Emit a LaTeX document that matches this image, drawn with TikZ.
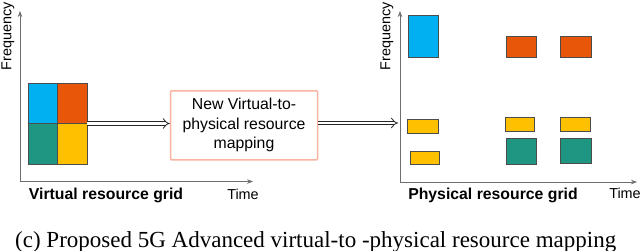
\documentclass[tikz,border=0pt]{standalone}
\usepackage{fontspec}
\setmainfont{Liberation Sans}
\newfontfamily\captionfont{Liberation Serif}
\usetikzlibrary{arrows.meta, positioning}
\definecolor{resblue}{RGB}{0,176,240}
\definecolor{resorange}{RGB}{232,86,10}
\definecolor{resgreen}{RGB}{30,150,130}
\definecolor{resyellow}{RGB}{255,192,0}
\definecolor{mapsalmon}{RGB}{248,180,160}
\definecolor{axisgray}{RGB}{110,110,110}

\begin{document}
\begin{tikzpicture}[x=1pt, y=-1pt,
  cell/.style={draw=gray!60!black, line width=0.5pt, minimum width=29.5pt,
               minimum height=40.5pt, inner sep=0pt, outer sep=0pt},
  block/.style={draw=gray!60!black, line width=0.4pt, inner sep=0pt, outer sep=0pt},
  mapbox/.style={draw=mapsalmon, line width=1.5pt, rounded corners=1pt,
                 minimum width=147pt, minimum height=69pt, align=center,
                 font=\fontsize{15.8}{19.5}\selectfont},
  axis/.style={-{Stealth[length=6pt, width=4.5pt]}, axisgray, line width=0.8pt},
  maparr/.style={-Implies, double=white, double distance=2.8pt,
                 line width=0.8pt, draw=gray!30!black},
  axlabel/.style={font=\fontsize{14.4}{16}\selectfont, inner sep=0pt},
  gridlabel/.style={font=\fontsize{15.8}{18}\selectfont\bfseries, inner sep=0pt},
]
  \useasboundingbox (0,0) rectangle (640,251);

  % Virtual resource grid
  \coordinate (vorig) at (20,181.5);
  \coordinate (vtop) at (20,11);
  \coordinate (vright) at (253,181.5);
  \draw[axis] (vorig) -- (vtop);
  \draw[axis] (vorig) -- (vright);
  \node[axlabel, rotate=90] (vfreq) at (8,36.5) {Frequency};
  \node[axlabel] (vtime) at (243,194) {Time};
  \node[gridlabel] (vlabel) at (106,195) {Virtual resource grid};

  \node[cell, fill=resblue, anchor=north west] (vb) at (28,83) {};
  \node[cell, fill=resorange, right=0pt of vb] (vo) {};
  \node[cell, fill=resgreen, below=0pt of vb] (vg) {};
  \node[cell, fill=resyellow, right=0pt of vg] (vy) {};

  % Mapping
  \node[mapbox] (map) at (244,125.3) {New Virtual-to-\\physical resource\\mapping};
  \draw[maparr] (vo.south east) -- (vo.south east -| map.west);

  % Physical resource grid
  \coordinate (porig) at (400,182);
  \coordinate (ptop) at (400,11);
  \coordinate (pright) at (637,182);
  \draw[axis] (porig) -- (ptop);
  \draw[axis] (porig) -- (pright);
  \node[axlabel, rotate=90] (pfreq) at (387,36.5) {Frequency};
  \node[axlabel] (ptime) at (625,193) {Time};
  \node[gridlabel] (plabel) at (493,195) {Physical resource grid};

  \coordinate (pin) at (398,123);
  \draw[maparr] (map.east |- pin) -- (pin);

  \foreach \nm/\x/\y/\w/\h/\c in {
      pb/423.3/36.5/30/41.6/resblue,
      po1/521/47.2/30/21/resorange, po2/575.5/47.2/30.4/21/resorange,
      py1/422.5/126.2/30.4/14.3/resyellow, py2/424.8/157.7/29/13.3/resyellow,
      py3/519.8/124.3/29.7/14/resyellow, py4/575.3/124.2/30/14.3/resyellow,
      pg1/521/151.5/30/25.6/resgreen, pg2/575.5/150.8/30.4/25.7/resgreen} {
    \node[block, fill=\c, minimum width=\w pt, minimum height=\h pt] (\nm) at (\x,\y) {};
  }

  % Caption
  \node[anchor=west, inner sep=0pt, font=\captionfont\fontsize{23}{25}\selectfont]
    (cap) at (15,241.7) {(c) Proposed 5G Advanced virtual-to -physical resource mapping};
\end{tikzpicture}
\end{document}
